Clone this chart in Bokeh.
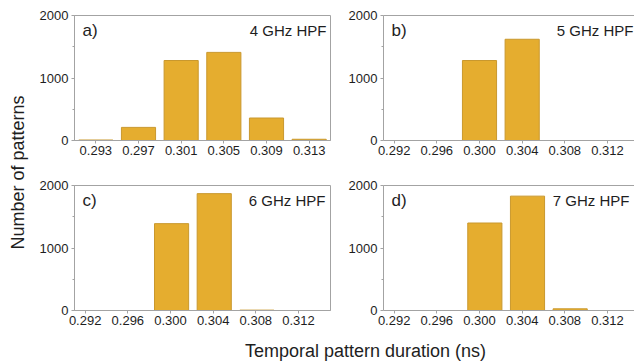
from bokeh.plotting import figure
from bokeh.layouts import row, column
from bokeh.models import (Range1d, FixedTicker, PrintfTickFormatter, LinearAxis,
                          Label, ColumnDataSource)
from bokeh.embed import file_html
from bokeh.resources import INLINE

# ---------------- data ----------------
ticks_a = [0.293, 0.297, 0.301, 0.305, 0.309, 0.313]
ticks_bcd = [0.292, 0.296, 0.300, 0.304, 0.308, 0.312]

dur_a = [0.293, 0.297, 0.301, 0.305, 0.309, 0.313]
cnt_a = [8, 210, 1280, 1410, 360, 20]

dur_b = [0.300, 0.304]
cnt_b = [1280, 1620]

dur_c = [0.3001, 0.3041, 0.3081]
cnt_c = [1390, 1870, 6]

dur_d = [0.3005, 0.3045, 0.3085]
cnt_d = [1400, 1830, 27]

y_ticks = [0, 1000, 2000]
y_minor = [500, 1500]
panel_tags = ["a)", "b)", "c)", "d)"]
filters = ["4 GHz HPF", "5 GHz HPF", "6 GHz HPF", "7 GHz HPF"]
x_title = "Temporal pattern duration (ns)"
y_title = "Number of patterns"

FONT = "Liberation Sans"
BAR_FILL = "#E5AD2F"
BAR_LINE = "#C9982E"
FRAME = "#A3A3A3"
TXT = "#1E1E1E"


def panel(dur, cnt, ticks, tag, filt, left_col, top_row, filt_right):
    if left_col:
        width, mb_right, x_end = 309, 15, 0.315
    else:
        width, mb_right, x_end = 289, 0, 0.31453
    if top_row:
        height, mb_top, mb_bot = 175, 15, 35
    else:
        height, mb_top, mb_bot = 157, 10, 22
    p = figure(width=width, height=height, output_backend="svg", toolbar_location=None,
               x_range=Range1d(0.291, x_end), y_range=Range1d(0, 2000),
               min_border_left=37, min_border_right=mb_right,
               min_border_top=mb_top, min_border_bottom=mb_bot,
               background_fill_color="white", border_fill_color="white")
    p.grid.visible = False
    p.outline_line_color = FRAME if left_col else None

    src = ColumnDataSource(dict(x=dur, top=cnt))
    p.vbar(x="x", top="top", width=0.0032, source=src,
           fill_color=BAR_FILL, line_color=BAR_LINE, line_width=1)

    xa = p.xaxis[0]
    xa.ticker = FixedTicker(ticks=ticks)
    xa.formatter = PrintfTickFormatter(format="%.3f")
    ya = p.yaxis[0]
    ya.ticker = FixedTicker(ticks=y_ticks, minor_ticks=y_minor)
    for ax in (xa, ya):
        ax.axis_line_color = FRAME
        ax.major_tick_line_color = FRAME
        ax.minor_tick_line_color = FRAME
        ax.major_tick_in = 0
        ax.major_tick_out = 3
        ax.minor_tick_in = 0
        ax.minor_tick_out = 2
        ax.major_label_text_font = FONT
        ax.major_label_text_font_size = "13px"
        ax.major_label_text_color = TXT
    xa.minor_tick_line_color = None
    xa.major_label_standoff = 2
    ya.major_label_standoff = 3

    if not left_col:
        top_ax = LinearAxis(ticker=FixedTicker(ticks=[]), major_label_text_font_size="0px",
                            axis_line_color=FRAME, major_tick_line_color=None,
                            minor_tick_line_color=None)
        p.add_layout(top_ax, "above")

    p.add_layout(Label(x=8, y=110, x_units="screen", y_units="screen", text=tag,
                       text_font=FONT, text_font_size="17px", text_color=TXT,
                       text_align="left", text_baseline="alphabetic"))
    p.add_layout(Label(x=filt_right, y=110.5,
                       x_units="screen", y_units="screen", text=filt,
                       text_font=FONT, text_font_size="15px", text_color=TXT,
                       text_align="right", text_baseline="alphabetic"))
    return p


pa = panel(dur_a, cnt_a, ticks_a, panel_tags[0], filters[0], True, True, 252)
pb = panel(dur_b, cnt_b, ticks_bcd, panel_tags[1], filters[1], False, True, 250)
pc = panel(dur_c, cnt_c, ticks_bcd, panel_tags[2], filters[2], True, False, 251)
pd = panel(dur_d, cnt_d, ticks_bcd, panel_tags[3], filters[3], False, False, 246)

# shared y title
ylab = figure(width=36, height=332, output_backend="svg", toolbar_location=None,
              x_range=Range1d(0, 36), y_range=Range1d(0, 332),
              x_axis_type=None, y_axis_type=None, min_border=0)
ylab.grid.visible = False
ylab.outline_line_color = None
ylab.add_layout(Label(x=17, y=160, x_units="screen", y_units="screen", text=y_title,
                      angle=90, angle_units="deg", text_font=FONT, text_font_size="18px",
                      text_color=TXT, text_align="center", text_baseline="middle"))

# shared x title
xlab = figure(width=634, height=30, output_backend="svg", toolbar_location=None,
              x_range=Range1d(0, 634), y_range=Range1d(0, 30),
              x_axis_type=None, y_axis_type=None, min_border=0)
xlab.grid.visible = False
xlab.outline_line_color = None
xlab.add_layout(Label(x=365, y=12, x_units="screen", y_units="screen", text=x_title,
                      text_font=FONT, text_font_size="18px", text_color=TXT,
                      text_align="center", text_baseline="alphabetic"))

root = column(row(ylab, column(row(pa, pb), row(pc, pd))), xlab)

open("out.html", "w").write(file_html(root, INLINE))
